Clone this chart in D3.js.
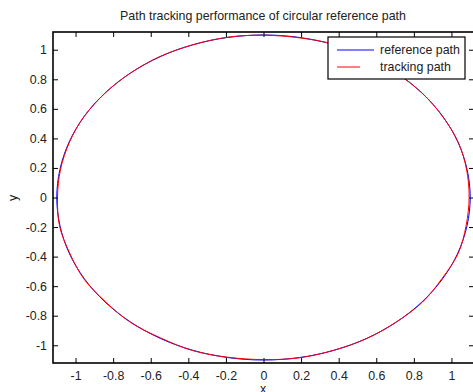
<!DOCTYPE html>
<html>
<head>
<meta charset="utf-8">
<script src="https://cdn.jsdelivr.net/npm/d3@7"></script>
<style>
  body { margin: 0; background: #fff; }
  text { font-family: "Liberation Sans", Arial, sans-serif; font-size: 12.4px; fill: #222; }
</style>
</head>
<body>
<svg id="chart" width="473" height="392"></svg>
<script>
// reference path (circle r = 1.1), points read every 10 degrees
const refX = [1.100, 1.083, 1.034, 0.953, 0.843, 0.707, 0.550, 0.376, 0.191, 0.000,
  -0.191, -0.376, -0.550, -0.707, -0.843, -0.953, -1.034, -1.083, -1.100,
  -1.083, -1.034, -0.953, -0.843, -0.707, -0.550, -0.376, -0.191, 0.000,
  0.191, 0.376, 0.550, 0.707, 0.843, 0.953, 1.034, 1.083];
const refY = [0.000, 0.191, 0.376, 0.550, 0.707, 0.843, 0.953, 1.034, 1.083, 1.100,
  1.083, 1.034, 0.953, 0.843, 0.707, 0.550, 0.376, 0.191, 0.000,
  -0.191, -0.376, -0.550, -0.707, -0.843, -0.953, -1.034, -1.083, -1.100,
  -1.083, -1.034, -0.953, -0.843, -0.707, -0.550, -0.376, -0.191];

// tracking path, small deviations from the reference
const trkX = [1.094, 1.080, 1.036, 0.951, 0.845, 0.705, 0.552, 0.377, 0.189, 0.002,
  -0.190, -0.378, -0.549, -0.709, -0.841, -0.955, -1.031, -1.080, -1.096,
  -1.085, -1.032, -0.955, -0.841, -0.708, -0.548, -0.377, -0.190, 0.001,
  0.190, 0.378, 0.548, 0.708, 0.845, 0.950, 1.036, 1.078];
const trkY = [0.002, 0.193, 0.374, 0.552, 0.705, 0.845, 0.951, 1.036, 1.081, 1.098,
  1.085, 1.032, 0.955, 0.841, 0.709, 0.548, 0.378, 0.189, -0.002,
  -0.193, -0.374, -0.552, -0.705, -0.845, -0.950, -1.036, -1.081, -1.097,
  -1.085, -1.032, -0.955, -0.841, -0.709, -0.548, -0.378, -0.190];

const xTicks = [-1, -0.8, -0.6, -0.4, -0.2, 0, 0.2, 0.4, 0.6, 0.8, 1];
const yTicks = [-1, -0.8, -0.6, -0.4, -0.2, 0, 0.2, 0.4, 0.6, 0.8, 1];
const seriesNames = ['reference path', 'tracking path'];
const titleText = 'Path tracking performance of circular reference path';

const margin = { top: 32, right: -1, bottom: 29, left: 53 };
const W = 473, H = 392;
const iw = W - margin.left - margin.right;
const ih = H - margin.top - margin.bottom;

const svg = d3.select('#chart');
const g = svg.append('g').attr('transform', `translate(${margin.left},${margin.top})`);

const x = d3.scaleLinear().domain([-1.12, 1.12]).range([0, iw]);
const y = d3.scaleLinear().domain([-1.12, 1.12]).range([ih, 0]);

const line = d3.line()
  .x(d => x(d[0]))
  .y(d => y(d[1]))
  .curve(d3.curveCatmullRomClosed);

const refPts = refX.map((v, i) => [v, refY[i]]);
const trkPts = trkX.map((v, i) => [v, trkY[i]]);

g.append('path').attr('d', line(refPts))
  .attr('fill', 'none').attr('stroke', '#0000ff').attr('stroke-width', 1);
g.append('path').attr('d', line(trkPts))
  .attr('fill', 'none').attr('stroke', '#ff0000').attr('stroke-width', 1);

// axes (MATLAB style: ticks inward, box on)
const fmt = d => d === 0 ? '0' : String(d);
const tl = 5;

g.append('g').attr('transform', `translate(0,${ih})`)
  .call(d3.axisBottom(x).tickValues(xTicks).tickFormat(fmt).tickSizeInner(-tl).tickSizeOuter(0).tickPadding(8));
g.append('g')
  .call(d3.axisTop(x).tickValues(xTicks).tickFormat('').tickSizeInner(-tl).tickSizeOuter(0));
g.append('g')
  .call(d3.axisLeft(y).tickValues(yTicks).tickFormat(fmt).tickSizeInner(-tl).tickSizeOuter(0).tickPadding(6));
g.append('g').attr('transform', `translate(${iw},0)`)
  .call(d3.axisRight(y).tickValues(yTicks).tickFormat('').tickSizeInner(-tl).tickSizeOuter(0));

g.selectAll('.domain').remove();
g.selectAll('.tick line').attr('stroke', '#000');
g.selectAll('.tick text').style('font-size', '12.4px').style('font-family', '"Liberation Sans", Arial, sans-serif').attr('fill', '#222');

g.append('rect').attr('x', 0).attr('y', 0).attr('width', iw).attr('height', ih)
  .attr('fill', 'none').attr('stroke', '#000').attr('stroke-width', 1.6);

// labels
svg.append('text').attr('x', 263).attr('y', 20).attr('text-anchor', 'middle').text(titleText);
svg.append('text').attr('x', 263).attr('y', 393).attr('text-anchor', 'middle').text('x');
svg.append('text').attr('transform', 'translate(17,198) rotate(-90)').attr('text-anchor', 'middle').text('y');

// legend
const lg = svg.append('g').attr('transform', 'translate(328,37)');
lg.append('rect').attr('width', 137).attr('height', 42)
  .attr('fill', '#fff').attr('stroke', '#000').attr('stroke-width', 1.2);
const colors = ['#0000ff', '#ff0000'];
const lens = [37, 23];
seriesNames.forEach((name, i) => {
  const yy = 13 + i * 17;
  lg.append('line').attr('x1', 9).attr('x2', 9 + lens[i]).attr('y1', yy).attr('y2', yy)
    .attr('stroke', colors[i]).attr('stroke-width', 1);
  lg.append('text').attr('x', 52).attr('y', yy + 4).text(name);
});
</script>
</body>
</html>
